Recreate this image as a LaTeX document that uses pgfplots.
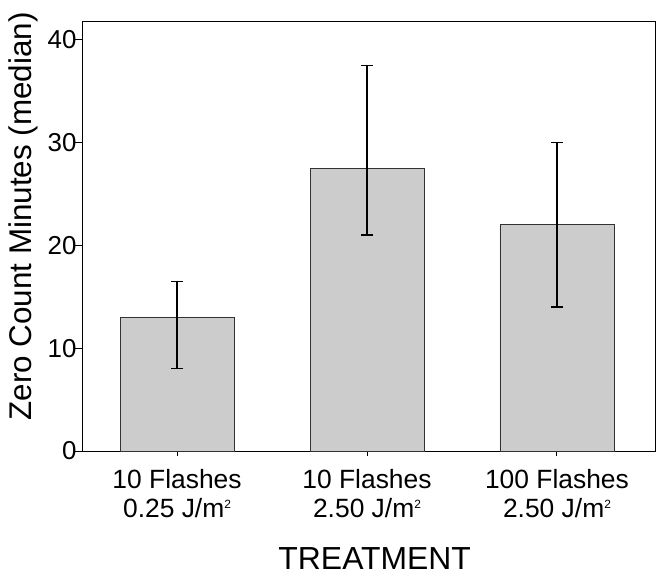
\documentclass[border=0pt]{standalone}
\usepackage{fontspec}
\setmainfont{Liberation Sans}
\usepackage{pgfplots}
\pgfplotsset{compat=1.18}
\newcommand{\sq}{\raisebox{9bp}{\fontsize{12}{12}\selectfont 2}}
\begin{document}
\begin{tikzpicture}
\begin{axis}[
  scale only axis,
  width=572bp, height=429bp,
  xmin=-0.495, xmax=2.516,
  ymin=0, ymax=41.7,
  axis line style={black, line width=1bp},
  xtick={0,1,2},
  xticklabels={{10 Flashes\\0.25 J/m\sq},{10 Flashes\\2.50 J/m\sq},{100 Flashes\\2.50 J/m\sq}},
  ytick={0,10,20,30,40},
  tick align=outside,
  xtick pos=bottom, ytick pos=left,
  xtick style={black, line width=1bp, /pgfplots/major tick length=5bp},
  ytick style={black, line width=1bp, /pgfplots/major tick length=8bp},
  /pgf/number format/assume math mode=true,
  yticklabel style={font=\fontsize{26}{30}\selectfont, inner sep=0pt, anchor=east, xshift=-2bp},
  xticklabel style={font=\fontsize{26.5}{29}\selectfont, align=center, inner sep=0pt, anchor=north, yshift=-14bp},
  xlabel={TREATMENT},
  ylabel={Zero Count Minutes (median)},
  xlabel style={font=\fontsize{32}{36}\selectfont, at={(axis description cs:0.51,0)}, anchor=base, yshift=-118bp, inner sep=0pt},
  ylabel style={font=\fontsize{31.5}{36}\selectfont, at={([xshift=-51bp]axis description cs:0,0.547)}, anchor=base, rotate=0, inner sep=0pt},
  clip=false,
]
\addplot[ybar, bar width=0.6, fill={rgb,255:red,204;green,204;blue,204}, draw={rgb,255:red,50;green,50;blue,50}, line width=0.8bp,
  error bars/.cd, y dir=both, y explicit,
  error bar style={black, line width=1.2bp},
  error mark options={rotate=90, mark size=6bp, black, line width=1.2bp}]
coordinates {
  (0,13)   += (0,3.5) -= (0,5)
  (1,27.5) += (0,10)  -= (0,6.5)
  (2,22)   += (0,8)   -= (0,8)
};
\end{axis}
\pgfresetboundingbox
\path[use as bounding box] ([shift={(-83bp,-130bp)}]current axis.south west) rectangle ([shift={(8bp,22bp)}]current axis.north east);
\end{tikzpicture}
\end{document}
